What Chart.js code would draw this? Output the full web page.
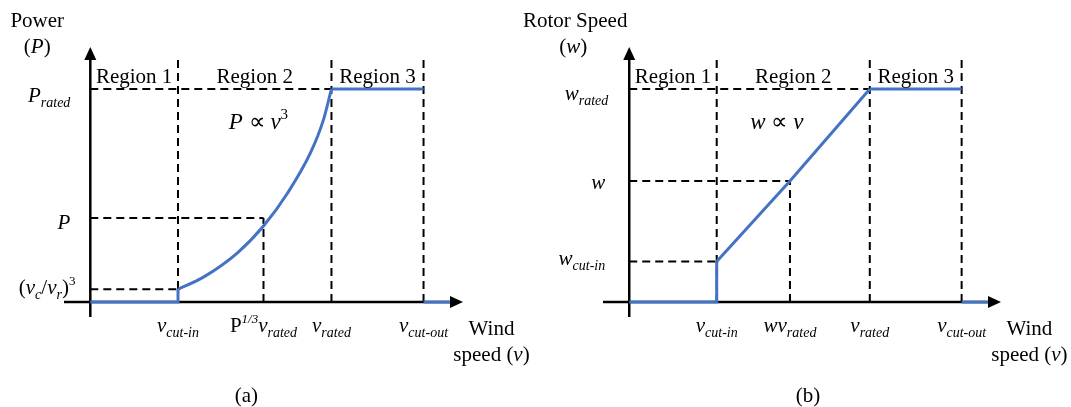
<!doctype html>
<html>
	<head>
		<meta charset="UTF-8" />
		<script src="https://cdn.jsdelivr.net/npm/chart.js"></script>
		<style type="text/css">
			body{margin:0;background:#fff;}
			#wrap{position:relative;width:1071px;height:407px;}
			canvas{position:absolute;top:0;}
		</style>
	</head>
	<body>
		<div id="wrap">
			<canvas id="powerChart" width="535" height="407" style="left:0px"></canvas>
			<canvas id="rotorChart" width="556" height="407" style="left:515px"></canvas>
		</div>
		<script>
			// wind speed marks, same in both panels
			const vCutIn = 4;
			const vRated = 11;
			const vCutOut = 15.2;
			const vStubEnd = 16.5;
			const regionTop = 1.136;

			// (a) power, P / P_rated
			const powerV = [4, 5.16, 6.7, 7.9, 9.0, 10.04, 10.63, 11];
			const powerP = [0.06, 0.117, 0.23, 0.357, 0.512, 0.70, 0.854, 1];
			const pCutIn = 0.06;
			const pMark = 0.394;
			const vMarkA = 7.9;

			// (b) rotor speed, w / w_rated
			const rotorV = [4, 7.35, 11];
			const rotorW = [0.19, 0.568, 1];
			const wCutIn = 0.19;
			const wMark = 0.568;
			const vMarkB = 7.35;

			const xMin = -1.2, xMax = 17, yMin = -0.07, yMax = 1.197;

			const BLUE = '#4472C4';
			const fonts = {
				n: {f: '21px "Liberation Serif"', dy: 0},
				i: {f: 'italic 21px "Liberation Serif"', dy: 0},
				r: {f: '21px "Liberation Serif"', dy: 0},
				sub: {f: 'italic 14px "Liberation Serif"', dy: 5},
				sup: {f: '13px "Liberation Serif"', dy: -9},
				supi: {f: 'italic 13px "Liberation Serif"', dy: -9},
				eq: {f: 'italic 23px "Liberation Serif"', dy: 0},
				eqn: {f: '23px "Liberation Serif"', dy: 0},
				eqs: {f: '15px "Liberation Serif"', dy: -10}
			};

			function pts(xs, ys) {
				return xs.map((x, i) => ({x: x, y: ys[i]}));
			}
			function blue(data, smooth) {
				return {data: data, borderColor: BLUE, borderWidth: 3, pointRadius: 0,
					tension: 0, cubicInterpolationMode: smooth ? 'monotone' : 'default', clip: false};
			}
			function dashed(data) {
				return {data: data, borderColor: '#000', borderWidth: 2, borderDash: [8, 5],
					pointRadius: 0, tension: 0, clip: false};
			}
			function axisLine(data) {
				return {data: data, borderColor: '#000', borderWidth: 2.5, pointRadius: 0, tension: 0, clip: false};
			}

			function drawRich(ctx, runs, x, y, align) {
				let w = 0;
				runs.forEach(r => { ctx.font = fonts[r[1]].f; w += ctx.measureText(r[0]).width; });
				let cx = align === 'right' ? x - w : (align === 'center' ? x - w / 2 : x);
				ctx.textAlign = 'left';
				ctx.textBaseline = 'alphabetic';
				ctx.fillStyle = '#000';
				runs.forEach(r => {
					ctx.font = fonts[r[1]].f;
					ctx.fillText(r[0], cx, y + fonts[r[1]].dy);
					cx += ctx.measureText(r[0]).width;
				});
			}

			// arrows at the axis ends and the text labels
			const sketchPlugin = {
				id: 'sketch',
				afterDraw(chart, args, opts) {
					const ctx = chart.ctx, sx = chart.scales.x, sy = chart.scales.y;
					const ox = sx.getPixelForValue(0), oy = sy.getPixelForValue(0);
					const tx = sx.getPixelForValue(xMax), ty = sy.getPixelForValue(yMax);
					ctx.save();
					ctx.fillStyle = '#000';
					ctx.beginPath();
					ctx.moveTo(tx, oy); ctx.lineTo(tx - 13, oy - 6); ctx.lineTo(tx - 13, oy + 6);
					ctx.closePath(); ctx.fill();
					ctx.beginPath();
					ctx.moveTo(ox, ty); ctx.lineTo(ox - 6, ty + 13); ctx.lineTo(ox + 6, ty + 13);
					ctx.closePath(); ctx.fill();
					opts.labels.forEach(l => {
						drawRich(ctx, l.runs, sx.getPixelForValue(l.x), sy.getPixelForValue(l.y), l.align);
					});
					ctx.restore();
				}
			};

			function makeChart(id, datasets, padding, labels) {
				return new Chart(document.getElementById(id), {
					type: 'line',
					data: {datasets: datasets},
					options: {
						responsive: false,
						animation: false,
						layout: {padding: padding},
						plugins: {legend: {display: false}, tooltip: {enabled: false}, sketch: {labels: labels}},
						scales: {
							x: {type: 'linear', display: false, min: xMin, max: xMax},
							y: {type: 'linear', display: false, min: yMin, max: yMax}
						}
					},
					plugins: [sketchPlugin]
				});
			}

			const regionY = 1.028, tickY = -0.141;
			const regionLabels = [
				{runs: [['Region 1', 'r']], x: vCutIn / 2, y: regionY, align: 'center'},
				{runs: [['Region 2', 'r']], x: (vCutIn + vRated) / 2, y: regionY, align: 'center'},
				{runs: [['Region 3', 'r']], x: (vRated + vCutOut) / 2, y: regionY, align: 'center'}
			];
			const windLabels = [
				{runs: [['Wind', 'n']], x: 18.3, y: -0.155, align: 'center'},
				{runs: [['speed (', 'n'], ['v', 'i'], [')', 'n']], x: 18.3, y: -0.277, align: 'center'}
			];
			const commonTicks = [
				{runs: [['v', 'i'], ['cut-in', 'sub']], x: vCutIn, y: tickY, align: 'center'},
				{runs: [['v', 'i'], ['rated', 'sub']], x: vRated, y: tickY, align: 'center'},
				{runs: [['v', 'i'], ['cut-out', 'sub']], x: vCutOut, y: tickY, align: 'center'}
			];

			// (a) power curve
			makeChart('powerChart', [
				blue(pts([0, vCutIn, vCutIn], [0, 0, pCutIn])),
				blue(pts(powerV, powerP), true),
				blue(pts([vRated, vCutOut], [1, 1])),
				blue(pts([vCutOut, vStubEnd], [0, 0])),
				dashed(pts([vCutIn, vCutIn], [0, regionTop])),
				dashed(pts([vRated, vRated], [0, regionTop])),
				dashed(pts([vCutOut, vCutOut], [0, regionTop])),
				dashed(pts([vMarkA, vMarkA], [0, pMark])),
				dashed(pts([0, vRated], [1, 1])),
				dashed(pts([0, vMarkA], [pMark, pMark])),
				dashed(pts([0, vCutIn], [pCutIn, pCutIn])),
				axisLine(pts([xMin, xMax - 0.4], [0, 0])),
				axisLine(pts([0, 0], [yMin, yMax - 0.03]))
			], {left: 64, right: 72, top: 47, bottom: 90}, regionLabels.concat(windLabels, commonTicks, [
				{runs: [['Power', 'n']], x: -2.42, y: 1.29, align: 'center'},
				{runs: [['(', 'n'], ['P', 'i'], [')', 'n']], x: -2.42, y: 1.169, align: 'center'},
				{runs: [['P', 'i'], ['rated', 'sub']], x: -0.91, y: 0.939, align: 'right'},
				{runs: [['P', 'i']], x: -0.91, y: 0.343, align: 'right'},
				{runs: [['(', 'n'], ['v', 'i'], ['c', 'sub'], ['/', 'n'], ['v', 'i'], ['r', 'sub'], [')', 'n'], ['3', 'sup']], x: -0.68, y: 0.0376, align: 'right'},
				{runs: [['P', 'n'], ['1/3', 'supi'], ['v', 'i'], ['rated', 'sub']], x: vMarkA, y: tickY, align: 'center'},
				{runs: [['P', 'eq'], [' \u221D ', 'eqn'], ['v', 'eq'], ['3', 'eqs']], x: 7.67, y: 0.81, align: 'center'},
				{runs: [['(a)', 'n']], x: 7.12, y: -0.469, align: 'center'}
			]));

			// (b) rotor speed
			makeChart('rotorChart', [
				blue(pts([0, vCutIn, vCutIn], [0, 0, wCutIn])),
				blue(pts(rotorV, rotorW)),
				blue(pts([vRated, vCutOut], [1, 1])),
				blue(pts([vCutOut, vStubEnd], [0, 0])),
				dashed(pts([vCutIn, vCutIn], [0, regionTop])),
				dashed(pts([vRated, vRated], [0, regionTop])),
				dashed(pts([vCutOut, vCutOut], [0, regionTop])),
				dashed(pts([vMarkB, vMarkB], [0, wMark])),
				dashed(pts([0, vRated], [1, 1])),
				dashed(pts([0, vMarkB], [wMark, wMark])),
				dashed(pts([0, vCutIn], [wCutIn, wCutIn])),
				axisLine(pts([xMin, xMax - 0.4], [0, 0])),
				axisLine(pts([0, 0], [yMin, yMax - 0.03]))
			], {left: 88, right: 70, top: 47, bottom: 90}, regionLabels.concat(windLabels, commonTicks, [
				{runs: [['Rotor Speed', 'n']], x: -2.47, y: 1.29, align: 'center'},
				{runs: [['(', 'n'], ['w', 'i'], [')', 'n']], x: -2.56, y: 1.169, align: 'center'},
				{runs: [['w', 'i'], ['rated', 'sub']], x: -0.96, y: 0.948, align: 'right'},
				{runs: [['w', 'i']], x: -1.1, y: 0.53, align: 'right'},
				{runs: [['w', 'i'], ['cut-in', 'sub']], x: -1.1, y: 0.174, align: 'right'},
				{runs: [['wv', 'i'], ['rated', 'sub']], x: vMarkB, y: tickY, align: 'center'},
				{runs: [['w', 'eq'], [' \u221D ', 'eqn'], ['v', 'eq']], x: 6.75, y: 0.81, align: 'center'},
				{runs: [['(b)', 'n']], x: 8.17, y: -0.469, align: 'center'}
			]));
		</script>
	</body>
</html>
